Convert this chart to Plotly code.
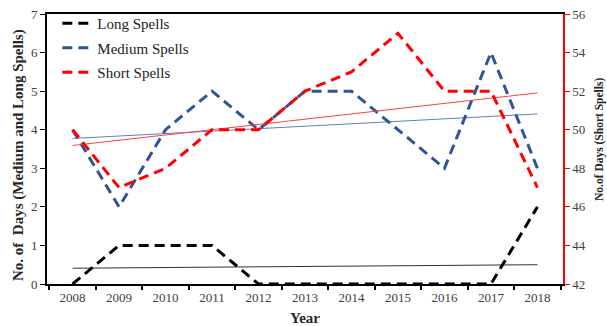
import numpy as np
import plotly.graph_objects as go

years = ["2008", "2009", "2010", "2011", "2012", "2013", "2014", "2015", "2016", "2017", "2018"]
long_spells = [0, 1, 1, 1, 0, 0, 0, 0, 0, 0, 2]
medium_spells = [4, 2, 4, 5, 4, 5, 5, 4, 3, 6, 3]
short_spells = [50, 47, 48, 50, 50, 52, 53, 55, 52, 52, 47]

xi = np.arange(len(years))

def trend(vals):
    k, b = np.polyfit(xi, np.array(vals, dtype=float), 1)
    return list(k * xi + b)

FONT = "Liberation Serif"
RED = "#FF0000"
BLUE = "#2F5597"
TICKC = "#404040"
TITC = "#262626"

fig = go.Figure()
# trendlines (not in legend)
fig.add_trace(go.Scatter(x=years, y=trend(long_spells), mode="lines",
                         line=dict(color="#333333", width=1), showlegend=False, hoverinfo="skip"))
fig.add_trace(go.Scatter(x=years, y=trend(medium_spells), mode="lines",
                         line=dict(color="#5B7FC0", width=1), showlegend=False, hoverinfo="skip"))
fig.add_trace(go.Scatter(x=years, y=trend(short_spells), mode="lines", yaxis="y2",
                         line=dict(color="#FF4040", width=1), showlegend=False, hoverinfo="skip"))

fig.add_trace(go.Scatter(x=years, y=long_spells, mode="lines", name="Long Spells", legendgroup="a",
                         line=dict(color="black", width=3, dash="10px,6px")))
fig.add_trace(go.Scatter(x=years, y=medium_spells, mode="lines", name="Medium Spells", legendgroup="b",
                         line=dict(color=BLUE, width=3, dash="10px,6px")))
fig.add_trace(go.Scatter(x=years, y=short_spells, mode="lines", name="Short Spells", yaxis="y2",
                         legendgroup="c", line=dict(color=RED, width=3, dash="10px,6px")))

fig.update_layout(
    width=607, height=326,
    margin=dict(l=47, r=44, t=14, b=42, autoexpand=False),
    paper_bgcolor="white", plot_bgcolor="white",
    font=dict(family=FONT, size=13, color=TICKC),
    showlegend=True,
    legend=dict(x=0.02, y=1.026, xanchor="left", yanchor="top",
                bgcolor="rgba(0,0,0,0)", font=dict(family=FONT, size=15, color="#222222"),
                itemwidth=30, tracegroupgap=2),
    xaxis=dict(type="category", range=[-0.55, 10.55], tickson="boundaries",
               ticks="outside", ticklen=4, tickcolor="black", tickwidth=1.5,
               showline=True, linecolor="black", linewidth=2, mirror=True,
               showgrid=False, zeroline=False, automargin=False,
               tickfont=dict(family=FONT, size=13, color=TICKC)),
    yaxis=dict(range=[0, 7], dtick=1, ticks="outside", ticklen=5, tickcolor="black",
               showline=True, linecolor="black", linewidth=2,
               showgrid=False, zeroline=False, automargin=False,
               tickfont=dict(family=FONT, size=13, color=TICKC)),
    yaxis2=dict(range=[42, 56], dtick=2, overlaying="y", side="right",
                ticks="outside", ticklen=5, tickcolor=RED,
                showline=True, linecolor=RED, linewidth=1.5,
                showgrid=False, zeroline=False, automargin=False,
                tickfont=dict(family=FONT, size=13, color=TICKC)),
    annotations=[
        dict(text="<b>No. of  Days (Medium and Long Spells)</b>", xref="paper", yref="paper",
             x=0, y=0.5, xshift=-29, yshift=-6, textangle=-90, showarrow=False,
             xanchor="center", yanchor="middle", font=dict(family=FONT, size=15, color=TITC)),
        dict(text="<b>No.of Days (Short Spells)</b>", xref="paper", yref="paper",
             x=1, y=0.5, xshift=36, yshift=9, textangle=-90, showarrow=False,
             xanchor="center", yanchor="middle", font=dict(family=FONT, size=11.5, color=TITC)),
        dict(text="<b>Year</b>", xref="paper", yref="paper",
             x=0.5, y=0, yshift=-34, showarrow=False,
             xanchor="center", yanchor="middle", font=dict(family=FONT, size=15, color=TITC)),
    ],
)

fig.write_html("out.html", config={"displayModeBar": False},
               post_script="document.body.style.margin='0';document.body.style.padding='0';"
                           "document.body.style.overflow='hidden';")
